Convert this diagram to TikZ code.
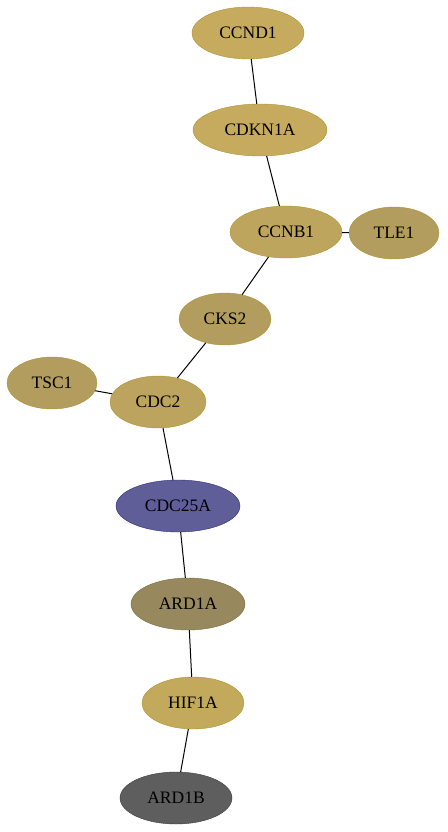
\documentclass[tikz,border=0pt]{standalone}
\usepackage{fontspec}
\setmainfont{Liberation Serif}
\usetikzlibrary{shapes.geometric}

\definecolor{goldA}{HTML}{C6AB5E}
\definecolor{goldB}{HTML}{BEA55E}
\definecolor{goldC}{HTML}{B29D5E}
\definecolor{goldD}{HTML}{BCA35E}
\definecolor{goldE}{HTML}{C3A95C}
\definecolor{goldEdge}{HTML}{B0922E}
\definecolor{bluegene}{HTML}{5F5E98}
\definecolor{blueEdge}{HTML}{2E2E78}
\definecolor{olivegene}{HTML}{98885E}
\definecolor{oliveEdge}{HTML}{7A6A3A}
\definecolor{greygene}{HTML}{5E5E5E}
\definecolor{greyEdge}{HTML}{3C3C3C}

\begin{document}
\begin{tikzpicture}[x=1pt, y=-1pt,
    gene/.style={ellipse, draw=goldEdge, fill=goldA, minimum height=52pt, inner sep=0pt, font=\fontsize{17.5pt}{20pt}\selectfont},
    link/.style={draw=black, line width=1pt}
]

\useasboundingbox (0,0) rectangle (447,832);

% Top of the chain
\node[gene, minimum width=112pt] (ccnd1) at (248, 33) {CCND1};
\node[gene, minimum width=134pt] (cdkn1a) at (260, 130) {CDKN1A};
\node[gene, fill=goldB, minimum width=112pt] (ccnb1) at (286, 232) {CCNB1};
\node[gene, fill=goldC, minimum width=90pt] (tle1) at (394, 233) {TLE1};

% Middle
\node[gene, fill=goldC, minimum width=92pt] (cks2) at (225, 319) {CKS2};
\node[gene, fill=goldC, minimum width=90pt] (tsc1) at (52, 383) {TSC1};
\node[gene, fill=goldD, minimum width=96pt] (cdc2) at (158, 402) {CDC2};
\node[gene, fill=bluegene, draw=blueEdge, minimum width=124pt] (cdc25a) at (178, 506) {CDC25A};

% Bottom of the chain
\node[gene, fill=olivegene, draw=oliveEdge, minimum width=114pt] (ard1a) at (188, 604) {ARD1A};
\node[gene, fill=goldE, minimum width=102pt] (hif1a) at (193, 703) {HIF1A};
\node[gene, fill=greygene, draw=greyEdge, minimum width=112pt] (ard1b) at (176, 798) {ARD1B};

% Interactions
\draw[link] (ccnd1) -- (cdkn1a);
\draw[link] (cdkn1a) -- (ccnb1);
\draw[link] (ccnb1) -- (tle1);
\draw[link] (ccnb1) -- (cks2);
\draw[link] (cks2) -- (cdc2);
\draw[link] (tsc1) -- (cdc2);
\draw[link] (cdc2) -- (cdc25a);
\draw[link] (cdc25a) -- (ard1a);
\draw[link] (ard1a) -- (hif1a);
\draw[link] (hif1a) -- (ard1b);

\end{tikzpicture}
\end{document}
